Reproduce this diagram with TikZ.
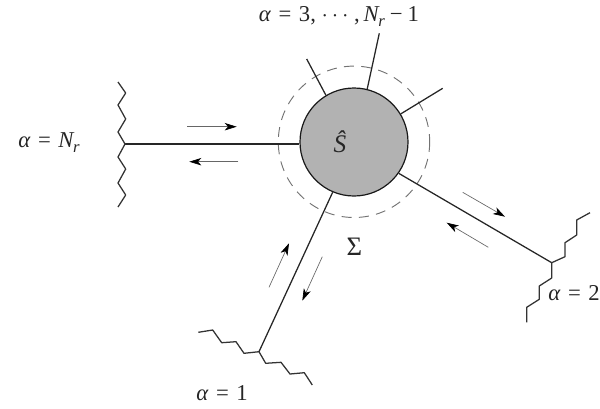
\documentclass[tikz,border=0pt]{standalone}
\usepackage{fontspec}
\setmainfont{Liberation Serif}
\usetikzlibrary{arrows.meta}
\newcommand{\al}{\textit{α}}
\newcommand{\eqs}{\hspace{0.33em}=\hspace{0.33em}}
\newcommand{\Nr}{\textit{N}\kern-0.06em\raisebox{-0.22em}{\fontsize{12.5}{14}\selectfont\textit{r}}}
\tikzset{
  wire/.style={line width=0.95pt,draw=black!85},
  zig/.style={line width=0.95pt,draw=black!80,line join=round},
  flow/.style={line width=0.5pt,draw=black!60,-{Stealth[length=9pt,width=5.6pt,inset=2.5pt,black]}},
  lab/.style={inner sep=0pt,text=black!85,font=\fontsize{17}{19}\selectfont},
}
\begin{document}
\begin{tikzpicture}[x=0.75pt,y=-0.75pt]
\useasboundingbox (0,0) rectangle (600,408);
\draw[draw=black!55,line width=0.7pt,dash pattern=on 7.5pt off 5.5pt] (354,141.8) circle[radius=75.7];
\node[circle,minimum size=81pt,inner sep=0pt,fill=black!30,draw=black!90,line width=0.9pt,font=\fontsize{19}{21}\selectfont,text=black!85] (S) at (354,142) {\raisebox{-2pt}{\textit{Ŝ}}\kern21pt\mbox{}};
\coordinate (jN) at (125,144);
\coordinate (j2) at (551.7,262.7);
\coordinate (j1) at (259,351.7);
\coordinate (t1) at (379.3,33.3);
\coordinate (t2) at (306.7,59);
\coordinate (t3) at (442.7,88.3);
\draw[wire] (jN) -- (S.west|-jN);
\draw[wire] (j2) -- (S.-35.7);
\draw[wire] (j1) -- (S.-113.6);
\draw[wire] (t1) -- (S.76.5);
\draw[wire] (t2) -- (S.121.4);
\draw[wire] (t3) -- (S.31.7);
\draw[zig] (118,82)--(125.7,93)--(118,105)--(125.7,119)--(118,132)--(jN)--(118,157)--(125.7,169)--(118,183)--(125.7,195)--(118,207);
\draw[zig] (590,212.7)--(576.7,220)--(576.7,235)--(565,242.7)--(565,256.7)--(j2)--(551.7,278)--(539.3,286)--(539.3,299.3)--(526.7,307.3)--(526.7,322.3);
\draw[zig] (198.3,332.3)--(212.7,330)--(221.7,342.7)--(236,341.7)--(244,353.3)--(j1)--(265.7,363.3)--(281,362.3)--(290,374)--(304.3,372.7)--(312.3,385);
\coordinate (a1) at (187.3,126.7); \coordinate (a2) at (236.7,126.7);
\coordinate (b1) at (238.3,161.7); \coordinate (b2) at (189.3,161.7);
\coordinate (c1) at (462.7,192.3); \coordinate (c2) at (505,216.7);
\coordinate (d1) at (488.3,247.3); \coordinate (d2) at (446.7,222.7);
\coordinate (e1) at (269,287.3); \coordinate (e2) at (289,243.3);
\coordinate (f1) at (322.3,256.7); \coordinate (f2) at (302.3,300.7);
\draw[flow] (a1)--(a2);
\draw[flow] (b1)--(b2);
\draw[flow] (c1)--(c2);
\draw[flow] (d1)--(d2);
\draw[flow] (e1)--(e2);
\draw[flow] (f1)--(f2);
\node[lab] (lN) at (49,143) {\al\eqs\Nr};
\node[lab] (lt) at (339,16) {\al\eqs 3, $\cdots$ ,\,\Nr\hspace{0.22em}−\hspace{0.22em}1};
\node[lab] (l2) at (574,293) {\al\eqs 2};
\node[lab] (l1) at (222,393) {\al\eqs 1};
\node[lab,font=\fontsize{20}{22}\selectfont] (lSig) at (354.5,247) {Σ};
\end{tikzpicture}
\end{document}
